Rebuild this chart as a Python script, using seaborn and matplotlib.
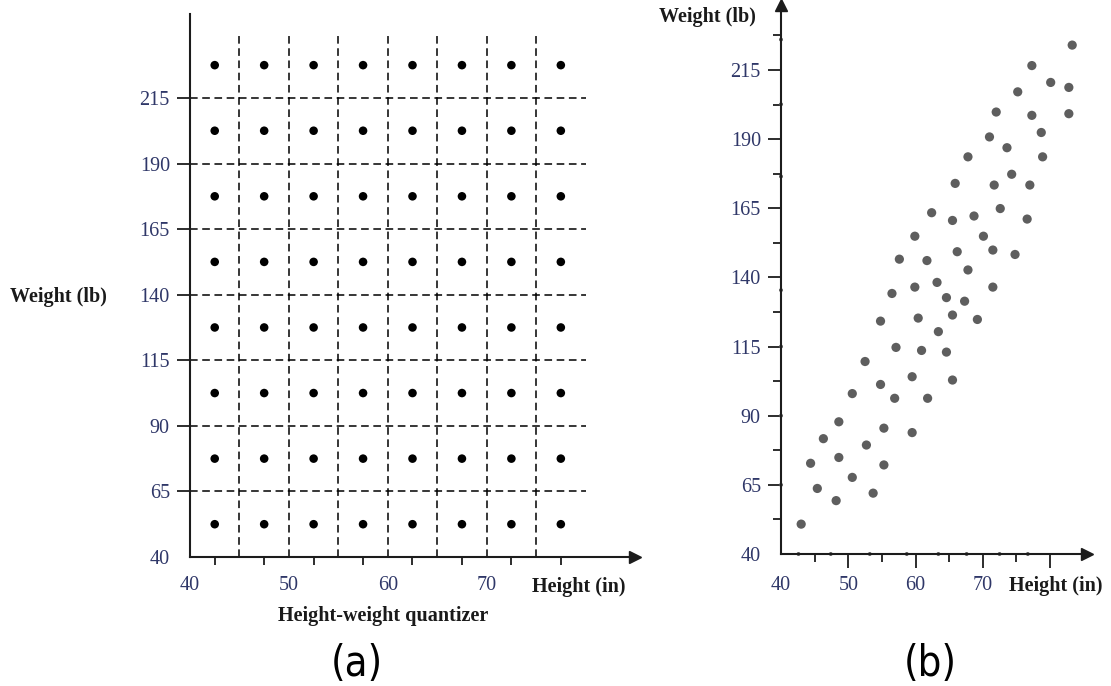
import numpy as np
import pandas as pd
import matplotlib.pyplot as plt
import seaborn as sns

# quantizer codebook (cell centres) and cell borders
height_centres = [42.5, 47.5, 52.5, 57.5, 62.5, 67.5, 72.5, 77.5]
weight_centres = [52.5, 77.5, 102.5, 127.5, 152.5, 177.5, 202.5, 227.5]
height_edges = [45, 50, 55, 60, 65, 70, 75]
weight_edges = [65, 90, 115, 140, 165, 190, 215]

# measured height/weight pairs in panel (b)
sample_height = [83.3, 77.3, 80.1, 82.8, 75.2, 82.8, 72.0, 77.3, 78.7, 71.0,
                 73.6, 67.8, 78.9, 74.3, 65.9, 71.7, 77.0, 72.6, 62.4, 65.5,
                 68.7, 76.6, 59.9, 70.1, 57.6, 61.7, 66.2, 71.5, 74.8, 67.8,
                 56.5, 59.9, 63.2, 71.5, 64.6, 67.3, 54.8, 60.4, 65.5, 69.2,
                 63.4, 57.1, 60.9, 64.6, 52.5, 59.5, 65.5, 54.8, 50.6, 56.9,
                 61.8, 48.6, 55.3, 59.5, 46.3, 52.7, 44.4, 48.6, 55.3, 50.6,
                 45.4, 53.7, 48.2, 43.0]
sample_weight = [224.0, 216.6, 210.5, 208.7, 207.1, 199.2, 199.8, 198.6, 192.4, 190.8,
                 186.9, 183.6, 183.6, 177.3, 174.0, 173.4, 173.4, 164.9, 163.4, 160.6,
                 162.2, 161.1, 154.9, 154.9, 146.6, 146.1, 149.3, 149.9, 148.3, 142.7,
                 134.2, 136.5, 138.2, 136.5, 132.7, 131.4, 124.2, 125.3, 126.4, 124.8,
                 120.4, 114.7, 113.6, 113.0, 109.6, 104.1, 102.9, 101.3, 98.0, 96.3,
                 96.3, 87.8, 85.5, 83.9, 81.7, 79.4, 72.8, 74.9, 72.2, 67.7,
                 63.7, 62.0, 59.3, 50.8]

# small marks sitting on the axes of panel (b)
xaxis_marks = [42.6, 47.4, 53.2, 58.7, 63.4, 67.6, 72.5, 76.7]
yaxis_marks = [65, 90, 115, 135.4, 176.5, 202.6, 226]

y_ticks = [40, 65, 90, 115, 140, 165, 190, 215]
x_labels = [40, 50, 60, 70]

sns.set_theme(style='ticks')
plt.rcParams['font.family'] = ['Liberation Serif', 'DejaVu Serif']

W, H = 1111, 686
fig = plt.figure(figsize=(W / 100, H / 100), dpi=100)
tick_col = '#2f3768'
axis_col = '#1c1c1c'
fs = 14.5

grid = pd.DataFrame([(h, w) for w in weight_centres for h in height_centres],
                    columns=['height', 'weight'])
samples = pd.DataFrame({'height': sample_height, 'weight': sample_weight})

# ---------- panel (a) ----------
axL = fig.add_axes([190 / W, 1 - 557 / H, 445 / W, 543 / H])
axL.vlines(height_edges, 40, 240, colors='black', linestyles=(0, (5, 3)), lw=1.1)
axL.hlines(weight_edges, 40, 80, colors='black', linestyles=(0, (5, 3)), lw=1.1)
sns.scatterplot(data=grid, x='height', y='weight', color='black', s=38,
                edgecolor='none', ax=axL, legend=False)
axL.set_xlim(40, 85)
axL.set_ylim(40, 247)

# ---------- panel (b) ----------
axR = fig.add_axes([781 / W, 1 - 554 / H, 306 / W, 549 / H])
sns.scatterplot(data=samples, x='height', y='weight', color='#5e5e5e', s=44,
                edgecolor='none', ax=axR, legend=False)
sns.scatterplot(x=xaxis_marks, y=[40] * len(xaxis_marks), color='#555555', s=8,
                edgecolor='none', ax=axR, legend=False, clip_on=False)
sns.scatterplot(x=[40] * len(yaxis_marks), y=yaxis_marks, color='#555555', s=8,
                edgecolor='none', ax=axR, legend=False, clip_on=False)
axR.set_xlim(40, 85.5)
axR.set_ylim(40, 238.5)

for ax in (axL, axR):
    sns.despine(ax=ax)
    for sp in ('left', 'bottom'):
        ax.spines[sp].set_linewidth(1.5)
        ax.spines[sp].set_color(axis_col)
    ax.set_xlabel('')
    ax.set_ylabel('')
    ax.set_yticks(y_ticks, labels=[str(v) for v in y_ticks])
    ax.tick_params(axis='y', which='major', direction='out', length=9.5, width=1.3,
                   color=axis_col, pad=5, labelsize=fs, labelcolor=tick_col)
    ax.yaxis.get_major_ticks()[0].tick1line.set_visible(False)
    # arrow head on the x axis
    ax.plot(1, 0, marker='>', ms=9, color=axis_col, transform=ax.transAxes,
            clip_on=False)

# x axis of (a): ticks under the codebook columns, labels on tens
axL.set_xticks(height_centres, labels=[])
axL.set_xticks(x_labels, labels=[str(v) for v in x_labels], minor=True)
axL.tick_params(axis='x', which='major', direction='out', length=6, width=1.3,
                color=axis_col)
axL.tick_params(axis='x', which='minor', length=0, pad=14, labelsize=fs,
                labelcolor=tick_col)

# axes ticks of (b)
axR.set_xticks([40, 50, 60, 70, 80], labels=['40', '50', '60', '70', ''])
axR.set_xticks([45, 55, 65, 75], minor=True)
axR.tick_params(axis='x', which='major', direction='out', length=10, width=1.3,
                color=axis_col, pad=6, labelsize=fs, labelcolor=tick_col)
axR.tick_params(axis='x', which='minor', direction='out', length=6, width=1.3,
                color=axis_col)
axR.xaxis.get_major_ticks()[0].tick1line.set_visible(False)
axR.set_yticks(weight_centres, minor=True)
axR.tick_params(axis='y', which='minor', direction='out', length=6, width=1.3,
                color=axis_col)
axR.plot(0, 1, marker='^', ms=9, color=axis_col, transform=axR.transAxes,
         clip_on=False)

# axis titles
lab = dict(fontsize=fs, fontweight='bold', color='#1a1a1a')
fig.text(10 / W, 1 - 297 / H, 'Weight (lb)', ha='left', va='center', **lab)
axL.annotate('Height (in)', xy=(74.6, 40), xytext=(0, -21.6),
             textcoords='offset points', ha='left', va='center',
             annotation_clip=False, **lab)
axL.annotate('Height-weight quantizer', xy=(59.5, 40), xytext=(0, -42.5),
             textcoords='offset points', ha='center', va='center',
             annotation_clip=False, **lab)
fig.text(659 / W, 1 - 17 / H, 'Weight (lb)', ha='left', va='center', **lab)
axR.annotate('Height (in)', xy=(73.9, 40), xytext=(0, -23),
             textcoords='offset points', ha='left', va='center',
             annotation_clip=False, **lab)

# panel captions (narrow, light sans)
cap = dict(fontsize=30, family=['DejaVu Sans'], stretch='condensed',
           fontweight='light', ha='center', va='center', color='black')
fig.text(357 / W, 1 - 664 / H, '(a)', **cap)
fig.text(930 / W, 1 - 664 / H, '(b)', **cap)

fig.savefig('out.png', dpi=100)
